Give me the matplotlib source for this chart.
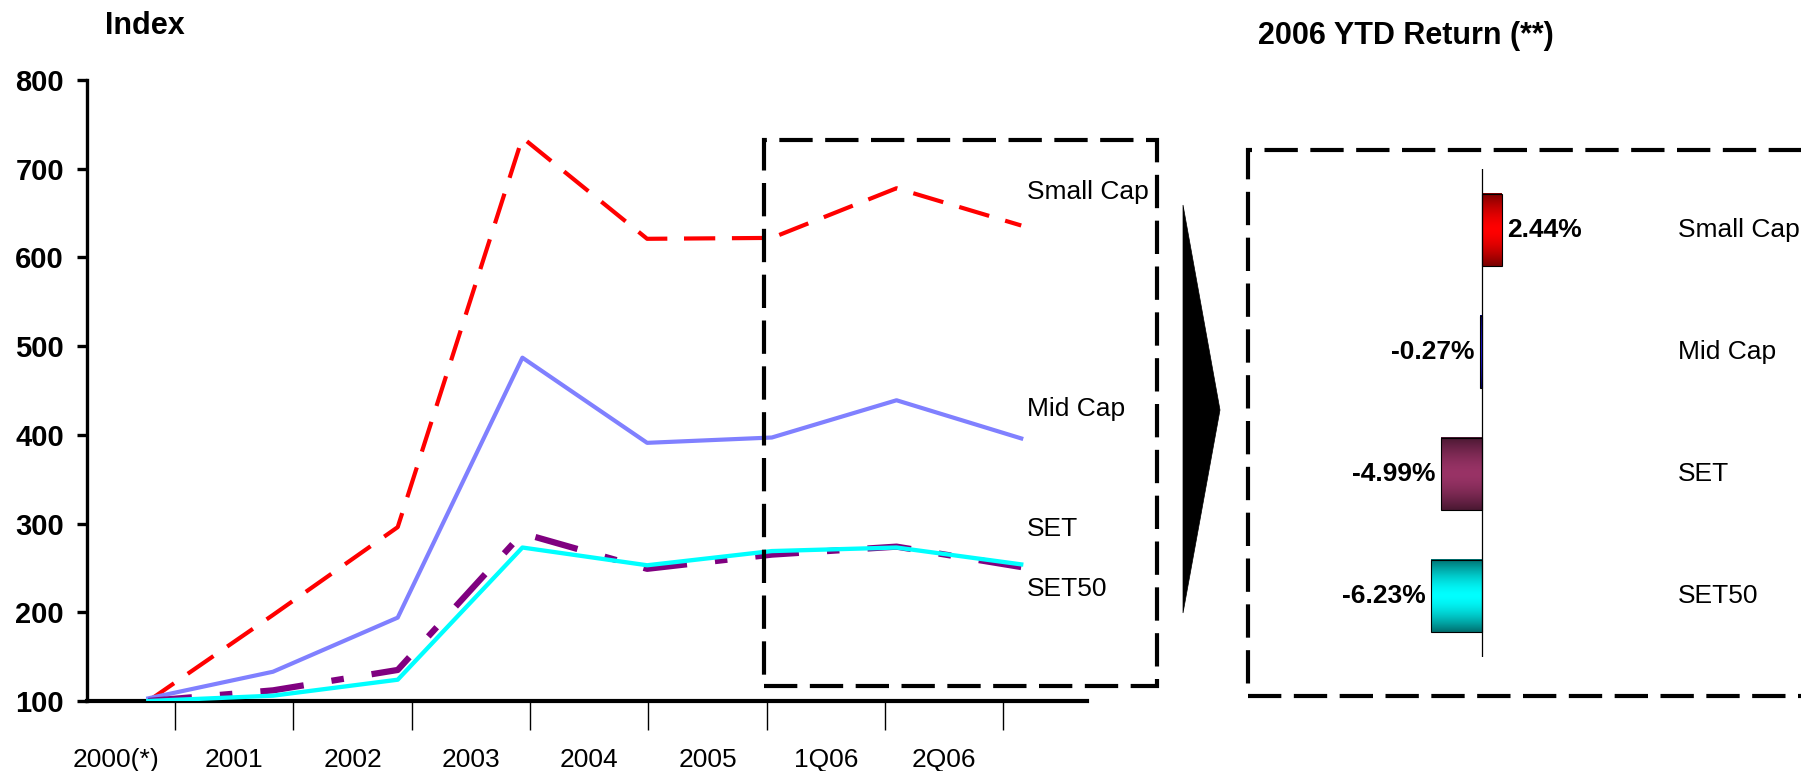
import numpy as np
import matplotlib
matplotlib.use('Agg')
import matplotlib.pyplot as plt
from matplotlib.patches import Rectangle, Polygon

plt.rcParams['font.family'] = ['Liberation Sans', 'DejaVu Sans']

# data
periods = ['2000(*)', '2001', '2002', '2003', '2004', '2005', '1Q06', '2Q06']
small_cap = [100, 197, 296, 735, 621, 622, 678, 636]
mid_cap = [103, 133, 194, 487, 391, 397, 439, 396]
set_idx = [100, 112, 135, 289, 249, 265, 274, 251]
set50 = [100, 106, 124, 273, 253, 269, 273, 254]
y_ticks = [100, 200, 300, 400, 500, 600, 700, 800]

ytd_names = ['Small Cap', 'Mid Cap', 'SET', 'SET50']
ytd_returns = [2.44, -0.27, -4.99, -6.23]

W, H = 1801, 771
fig = plt.figure(figsize=(W / 100, H / 100), dpi=100)


def fx(x):
    return x / W


def fy(y):
    return 1 - y / H


# left chart: category axis (ticks + labels)
ax = fig.add_axes([fx(87), fy(701), (1086.7 - 87) / W, 621 / H])
ax.set_xlim(-0.245, 8.205)
ax.set_ylim(100, 800)
ax.set_yticks(y_ticks)
ax.set_xticks(range(len(periods)))
ax.set_xticklabels(periods, fontsize=19)
ax.set_xticks(np.arange(len(periods)) + 0.5, minor=True)
ax.tick_params(axis='x', which='major', length=0, pad=34)
ax.tick_params(axis='x', which='minor', length=21, width=1, direction='out')
ax.tick_params(axis='y', length=7.5, width=2.4, labelsize=21, pad=9)
for lbl in ax.get_yticklabels():
    lbl.set_fontweight('bold')
for s in ['top', 'right']:
    ax.spines[s].set_visible(False)
ax.spines['left'].set_linewidth(2.4)
ax.spines['bottom'].set_linewidth(3)

# the lines sit on their own (slightly wider spaced) x scale
axl = ax.twiny()
axl.set_xlim(-0.4916, 7.525)
axl.axis('off')
x = np.arange(len(periods))
axl.plot(x, small_cap, color='#FF0000', lw=3, dashes=(7.5, 4), dash_capstyle='butt')
axl.plot(x, mid_cap, color='#8080FF', lw=3)
axl.plot(x, set_idx, color='#800080', lw=4.5, dashes=(7, 4.5, 2, 4.5), dash_capstyle='butt')
axl.plot(x, set50, color='#00FFFF', lw=3.1)

fig.text(fx(1027), fy(192), 'Small Cap', fontsize=19, va='center')
fig.text(fx(1027), fy(409), 'Mid Cap', fontsize=19, va='center')
fig.text(fx(1027), fy(529), 'SET', fontsize=19, va='center')
fig.text(fx(1027), fy(589), 'SET50', fontsize=19, va='center')

fig.text(fx(105), fy(26), 'Index', fontsize=22, fontweight='bold', va='center')
fig.text(fx(1258), fy(36), '2006 YTD Return (**)', fontsize=22, fontweight='bold', va='center')

# dashed boxes and arrow
box_style = dict(fill=False, ec='black', lw=3, ls=(0, (8, 3)), transform=fig.transFigure, clip_on=False)
fig.add_artist(Rectangle((fx(764), fy(686)), (1157 - 764) / W, (686 - 140) / H, **box_style))
fig.add_artist(Rectangle((fx(1248), fy(696)), (1830 - 1248) / W, (696 - 150) / H, **box_style))
fig.add_artist(Polygon([(fx(1183), fy(205)), (fx(1220), fy(410)), (fx(1183), fy(613))],
                       closed=True, fc='black', ec='black', lw=0.5, transform=fig.transFigure))

# right chart: YTD return bars with gradient fill
bax = fig.add_axes([fx(1248), fy(657), (1801 - 1248) / W, 488 / H])
xlim = (-28.70, 39.15)
ylim = (3.5, -0.5)
bar_h = 0.594
edge_cols = ['#7A0000', '#000070', '#4A1832', '#007070']
mid_cols = ['#FF0000', '#2020FF', '#993366', '#00FFFF']
t = np.abs(np.linspace(-1, 1, 64)) ** 1.6
for i, v in enumerate(ytd_returns):
    c0 = np.array(matplotlib.colors.to_rgb(mid_cols[i]))
    c1 = np.array(matplotlib.colors.to_rgb(edge_cols[i]))
    grad = (c0[None, :] * (1 - t[:, None]) + c1[None, :] * t[:, None])[:, None, :]
    bax.imshow(grad, extent=(min(0, v), max(0, v), i + bar_h / 2, i - bar_h / 2),
               aspect='auto', interpolation='bilinear', zorder=2)
    bax.barh(i, v, height=bar_h, fc='none', ec='black', lw=0.8, zorder=3)
    off = 4 if v > 0 else -4
    bax.annotate(f'{v:.2f}%', xy=(v, i), xytext=(off, 0), textcoords='offset points',
                 ha='left' if v > 0 else 'right', va='center', fontsize=19, fontweight='bold')
    bax.text(24.06, i, ytd_names[i], fontsize=19, va='center')
bax.axvline(0, color='black', lw=0.9, zorder=4)
bax.set_xlim(*xlim)
bax.set_ylim(*ylim)
bax.axis('off')

fig.savefig('out.png', dpi=100)
